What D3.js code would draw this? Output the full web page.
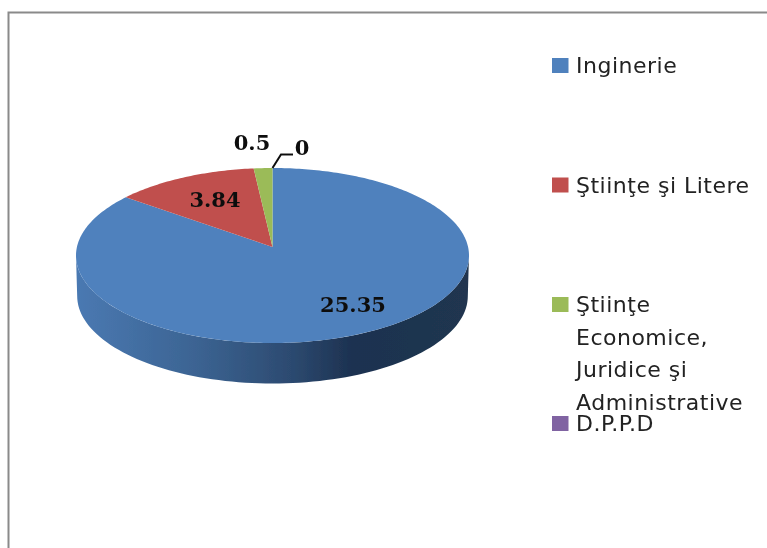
<!DOCTYPE html>
<html><head><meta charset="utf-8">
<script src="https://cdn.jsdelivr.net/npm/d3@7"></script>
<style>html,body{margin:0;padding:0;background:#fff}svg{display:block}</style>
</head><body>
<svg id="c" width="767" height="548"></svg>
<script>
const categories = ["Inginerie", "Ştiinţe şi Litere", "Ştiinţe Economice, Juridice şi Administrative", "D.P.P.D"];
const values = [25.35, 3.84, 0.5, 0];
const legendLines = [["Inginerie"], ["Ştiinţe şi Litere"], ["Ştiinţe", "Economice,", "Juridice şi", "Administrative"], ["D.P.P.D"]];
const colors = ["#4f81bd", "#c0504d", "#9bbb59", "#8064a2"];

const svg = d3.select("#c");
const defs = svg.append("defs");
defs.append("filter").attr("id","soft").append("feGaussianBlur").attr("stdDeviation",0.45);
const grad = defs.append("linearGradient").attr("id","side").attr("gradientUnits","userSpaceOnUse")
  .attr("x1",76).attr("x2",469).attr("y1",0).attr("y2",0);
[[0,"#4a79b2"],[0.3,"#3c6493"],[0.55,"#2c4a70"],[0.7,"#1d3251"],[1,"#20364f"]].forEach(s=>grad.append("stop").attr("offset",s[0]).attr("stop-color",s[1]));

const g = svg.append("g").attr("filter","url(#soft)");

// frame
g.append("path").attr("d","M8.5 548V12.5H767").attr("fill","none").attr("stroke","#8a8a8a").attr("stroke-width",2);

// projected disc
const cx=272.5, cy=255.5, rx=196.5, ry=87.5, apexLift=8.5, depth=40.5;
const c=apexLift/ry, A=rx*Math.sqrt(1-c*c);
const project = a => { const u=Math.sin(a), v=Math.cos(a), w=1+c*v;
  return [cx + A*u/w, cy - (ry*v+apexLift)/w]; };
const line = d3.line();
const apex=[cx,cy-apexLift];

const pie = d3.pie().sort(null).value(d=>d);
const arcs = pie(values);

// side wall (front half of the rim, right extreme to left extreme)
const rim = d3.range(0,181,2).map(t=>{const a=t*Math.PI/180;return [cx+rx*Math.cos(a), cy+ry*Math.sin(a)];});
const lower = rim.slice().reverse().map(p=>[cx+(p[0]-cx)*0.994,p[1]+depth]);
g.append("path").attr("d",line(rim.concat(lower))+"Z").attr("fill","url(#side)");

// top slices, sampled along the rim
arcs.forEach((d,i)=>{
  if(d.endAngle-d.startAngle<=0) return;
  const n=Math.max(2,Math.ceil((d.endAngle-d.startAngle)*60));
  const pts=d3.range(n+1).map(k=>project(d.startAngle+(d.endAngle-d.startAngle)*k/n));
  g.append("path").attr("d",line([apex,...pts])+"Z").attr("fill",colors[i]);
});

// data labels
const lab = [[353,312],[215,207],[252,150],[302,155]];
values.forEach((v,i)=>{
  g.append("text").attr("x",lab[i][0]).attr("y",lab[i][1]).attr("text-anchor","middle")
   .attr("font-family","DejaVu Serif").attr("font-weight","bold").attr("font-size",21).attr("fill","#111").text(v);
});
// leader line of the zero slice
g.append("path").attr("d",line([project(arcs[3].startAngle),[281,154.5],[293,154.5]])).attr("fill","none").attr("stroke","#111").attr("stroke-width",2);

// legend
const legY=[65.5,185,304.5,423.5], lh=32.7;
categories.forEach((name,i)=>{
  g.append("rect").attr("x",552).attr("y",legY[i]-7.5).attr("width",16.5).attr("height",15).attr("fill",colors[i]);
  legendLines[i].forEach((t,k)=>{
    g.append("text").attr("x",576).attr("y",legY[i]+7.5+k*lh)
     .attr("font-family","DejaVu Sans").attr("font-size",22).attr("letter-spacing",0.5).attr("fill","#222").text(t);
  });
});
</script>
</body></html>
